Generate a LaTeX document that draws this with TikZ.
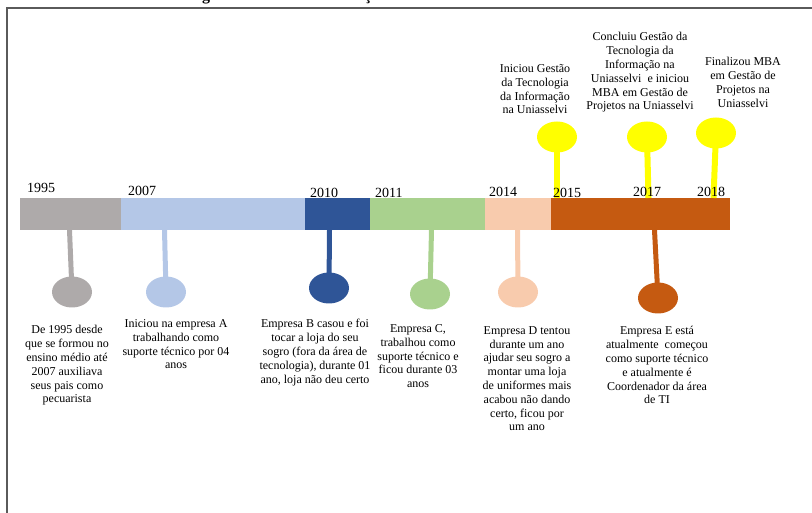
\documentclass[tikz,border=0pt]{standalone}
\usepackage{fontspec}
\setmainfont{Liberation Serif}
\usetikzlibrary{shapes.geometric}
\definecolor{cgray}{HTML}{AEAAAA}
\definecolor{clblue}{HTML}{B4C7E7}
\definecolor{cdblue}{HTML}{2F5597}
\definecolor{cgreen}{HTML}{A9D18E}
\definecolor{cpeach}{HTML}{F8CBAD}
\definecolor{corange}{HTML}{C55A11}
\definecolor{cyellow}{HTML}{FFFF00}
\definecolor{cframe}{HTML}{5A5A5A}

\begin{document}
\begin{tikzpicture}[x=1pt,y=-1pt,
  seg/.style={draw=none, inner sep=0, outer sep=0, minimum height=32pt, anchor=north west},
  dot/.style={ellipse, draw=none, inner sep=0, minimum width=40pt, minimum height=31pt},
  stem/.style={line width=5pt},
  ystem/.style={line width=6pt, cyellow},
  year/.style={font=\fontsize{14}{16}\selectfont, anchor=base west, inner sep=0},
  note/.style={font=\fontsize{12}{13.8}\selectfont, align=center, inner sep=0, anchor=north,
    execute at begin node=\strut},
  frag/.style={font=\fontsize{16}{18}\selectfont\bfseries, anchor=base, inner sep=0},
]
\useasboundingbox (0,0) rectangle (812,513);
\clip (0,0) rectangle (812,513);

% heading above the frame, only its lowest strokes fall inside the page
\node[frag] (fragg) at (206,0.5) {g};
\node[frag] (fragc) at (368,0.5) {ç};

% outer frame
\draw[cframe, line width=1.6pt] (7,540) -- (7,8) -- (840,8);

% timeline bar
\node[seg, fill=cgray,   minimum width=101pt] (s1) at (20,198) {};
\node[seg, fill=clblue,  minimum width=184pt] (s2) at (121,198) {};
\node[seg, fill=cdblue,  minimum width=65pt]  (s3) at (305,198) {};
\node[seg, fill=cgreen,  minimum width=115pt] (s4) at (370,198) {};
\node[seg, fill=cpeach,  minimum width=66pt]  (s5) at (485,198) {};
\node[seg, fill=corange, minimum width=179pt] (s6) at (551,198) {};

% stems below the bar
\coordinate (t1) at (69.5,230);
\coordinate (t2) at (164.5,230);
\coordinate (t3) at (329.5,230);
\coordinate (t4) at (431.5,230);
\coordinate (t5) at (517.5,230);
\coordinate (t6) at (654.5,230);
\coordinate (c1) at (72,292);
\coordinate (c2) at (166,292);
\coordinate (c3) at (329,288);
\coordinate (c4) at (430,294);
\coordinate (c5) at (518,292);
\coordinate (c6) at (658,298);
\draw[stem, cgray]   (t1) -- (c1);
\draw[stem, clblue]  (t2) -- (c2);
\draw[stem, cdblue]  (t3) -- (c3);
\draw[stem, cgreen]  (t4) -- (c4);
\draw[stem, cpeach]  (t5) -- (c5);
\draw[stem, corange] (t6) -- (c6);
\node[dot, fill=cgray]   (d1) at (c1) {};
\node[dot, fill=clblue]  (d2) at (c2) {};
\node[dot, fill=cdblue]  (d3) at (c3) {};
\node[dot, fill=cgreen]  (d4) at (c4) {};
\node[dot, fill=cpeach]  (d5) at (c5) {};
\node[dot, fill=corange] (d6) at (c6) {};

% yellow markers above the bar
\coordinate (u1) at (557,198);
\coordinate (u2) at (648.5,198);
\coordinate (u3) at (713.5,198);
\coordinate (e1) at (557,137);
\coordinate (e2) at (647,137);
\coordinate (e3) at (716,133);
\draw[ystem] (u1) -- (e1);
\draw[ystem] (u2) -- (e2);
\draw[ystem] (u3) -- (e3);
\node[dot, fill=cyellow] (y1) at (e1) {};
\node[dot, fill=cyellow] (y2) at (e2) {};
\node[dot, fill=cyellow] (y3) at (e3) {};

% years
\node[year] (k1995) at (27,193) {1995};
\node[year] (k2007) at (128,196) {2007};
\node[year] (k2010) at (310,198) {2010};
\node[year] (k2011) at (375,198) {2011};
\node[year] (k2014) at (489,197) {2014};
\node[year] (k2015) at (553,198) {2015};
\node[year] (k2017) at (633,197) {2017};
\node[year] (k2018) at (697,197) {2018};

% notes under the bar
\node[note] (n1) at (67,325.3) {De 1995 desde\\que se formou no\\ensino médio até\\2007 auxiliava\\seus pais como\\pecuarista};
\node[note] (n2) at (176,319.3) {Iniciou na empresa A\\trabalhando como\\suporte técnico por 04\\anos};
\node[note] (n3) at (315,319.3) {Empresa B casou e foi\\tocar a loja do seu\\sogro (fora da área de\\tecnologia), durante 01\\ano, loja não deu certo};
\node[note] (n4) at (418,324.3) {Empresa C,\\trabalhou como\\suporte técnico e\\ficou durante 03\\anos};
\node[note] (n5) at (527,326.3) {Empresa D tentou\\durante um ano\\ajudar seu sogro a\\montar uma loja\\de uniformes mais\\acabou não dando\\certo, ficou por\\um ano};
\node[note] (n6) at (657,326.3) {Empresa E está\\atualmente~ começou\\como suporte técnico\\e atualmente é\\Coordenador da área\\de TI};

% notes above the bar
\node[note] (m1) at (535,64.3) {Iniciou Gestão\\da Tecnologia\\da Informação\\na Uniasselvi};
\node[note] (m2) at (640,32.3) {Concluiu Gestão da\\Tecnologia da\\Informação na\\Uniasselvi~ e iniciou\\MBA em Gestão de\\Projetos na Uniasselvi};
\node[note] (m3) at (743,57.3) {Finalizou MBA\\em Gestão de\\Projetos na\\Uniasselvi};
\end{tikzpicture}
\end{document}
